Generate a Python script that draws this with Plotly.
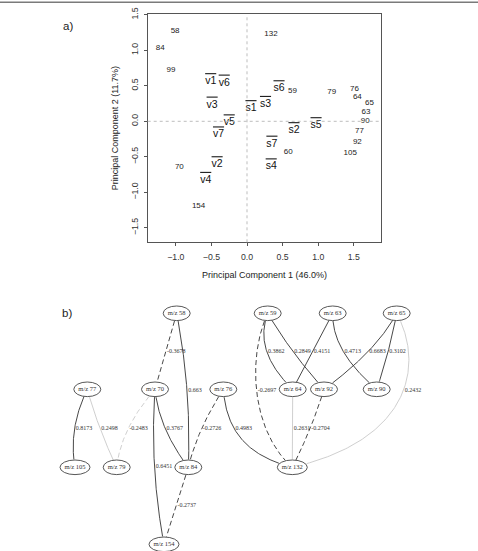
import numpy as np
import plotly.graph_objects as go

# ---------------- Panel a data (PCA biplot) ----------------
pc1_title = "Principal Component 1 (46.0%)"
pc2_title = "Principal Component 2 (11.7%)"

sample_names = ["v1", "v6", "v3", "v5", "v7", "v2", "v4",
                "s6", "s1", "s3", "s2", "s5", "s7", "s4"]
sample_pc1 = [-0.51, -0.32, -0.49, -0.25, -0.40, -0.42, -0.58,
              0.45, 0.056, 0.26, 0.66, 0.97, 0.35, 0.34]
sample_pc2 = [0.56, 0.54, 0.23, -0.02, -0.19, -0.61, -0.83,
              0.46, 0.18, 0.24, -0.13, -0.06, -0.32, -0.64]

mz_names = ["58", "84", "99", "132", "59", "79", "76", "64", "65", "63",
            "90", "77", "92", "60", "105", "70", "154"]
mz_pc1 = [-1.01, -1.22, -1.067, 0.337, 0.64, 1.19, 1.51, 1.55, 1.72, 1.67,
          1.66, 1.58, 1.55, 0.58, 1.45, -0.95, -0.68]
mz_pc2 = [1.27, 1.03, 0.72, 1.23, 0.42, 0.41, 0.455, 0.34, 0.26, 0.127,
          0.01, -0.137, -0.296, -0.43, -0.44, -0.65, -1.19]

x_ticks = [-1.0, -0.5, 0.0, 0.5, 1.0, 1.5]
y_ticks = [-1.5, -1.0, -0.5, 0.0, 0.5, 1.0, 1.5]

# ---------------- Panel b data (correlation network) ----------------
node_names = ["m/z 58", "m/z 59", "m/z 63", "m/z 65",
              "m/z 77", "m/z 70", "m/z 76", "m/z 64", "m/z 92", "m/z 90",
              "m/z 105", "m/z 79", "m/z 84", "m/z 132", "m/z 154"]
node_x = [176.7, 267.7, 332.7, 396.7,
          87.3, 155.0, 223.3, 292.7, 324.0, 376.7,
          75.0, 116.7, 188.3, 292.3, 164.0]
node_y = [313.3, 313.3, 313.3, 313.3,
          389.3, 389.3, 389.3, 389.3, 389.3, 389.3,
          467.3, 467.3, 467.3, 467.3, 544.3]

edge_src = ["m/z 58", "m/z 58", "m/z 77", "m/z 77", "m/z 70", "m/z 70", "m/z 70",
            "m/z 76", "m/z 84", "m/z 76", "m/z 59", "m/z 59", "m/z 59", "m/z 63",
            "m/z 63", "m/z 65", "m/z 65", "m/z 65", "m/z 64", "m/z 92"]
edge_tgt = ["m/z 70", "m/z 84", "m/z 105", "m/z 79", "m/z 79", "m/z 84", "m/z 154",
            "m/z 84", "m/z 154", "m/z 132", "m/z 132", "m/z 64", "m/z 92", "m/z 64",
            "m/z 90", "m/z 92", "m/z 90", "m/z 132", "m/z 132", "m/z 132"]
edge_w = [-0.3678, 0.663, 0.8173, 0.2498, -0.2483, 0.3767, 0.6451,
          -0.2726, -0.2737, 0.4983, -0.2697, 0.3862, 0.2849, 0.4151,
          0.4713, 0.6683, 0.3102, 0.2432, 0.2631, -0.2704]

# edge routing style (curve shape only)
edge_bend = [0, 9, -13, -4, -15, -13, -10, -8, 0, None, None, -27, -6, 0,
             -23, 16, 3, None, 0, 4]
edge_cubic = {9: ((3, 40), (-47, -12)),
              10: ((-20, 42), (-42, -37)),
              17: ((28, 52), (118, -27))}

# ---------------- figure ----------------
W, H = 478, 551
fig = go.Figure()

FONT_SANS = "Liberation Sans, Arial, sans-serif"
FONT_SERIF = "Liberation Serif, Times New Roman, serif"

# panel a text marks
fig.add_trace(go.Scatter(
    x=mz_pc1, y=mz_pc2, mode="text", text=mz_names,
    textposition="middle center",
    textfont=dict(family=FONT_SANS, size=8, color="#222"),
    xaxis="x", yaxis="y", hoverinfo="skip", showlegend=False))
fig.add_trace(go.Scatter(
    x=sample_pc1, y=sample_pc2, mode="text",
    text=['<span style="text-decoration:overline">%s</span>' % n for n in sample_names],
    textposition="middle center",
    textfont=dict(family=FONT_SANS, size=10.5, color="#111"),
    xaxis="x", yaxis="y", hoverinfo="skip", showlegend=False))

# panel b geometry
pos = {n: (x, y) for n, x, y in zip(node_names, node_x, node_y)}
def semi_axes(name):
    digits = len(name.split()[-1])
    return 13.5 + 1.5 * (digits - 2), 7.3

def inside(px, py, name):
    cx, cy = pos[name]
    a, b = semi_axes(name)
    return ((px - cx) / a) ** 2 + ((py - cy) / b) ** 2 < 1.0

groups = {}
labels = []
t = np.linspace(0, 1, 120)
for i, (s, g, w) in enumerate(zip(edge_src, edge_tgt, edge_w)):
    x0, y0 = pos[s]
    x3, y3 = pos[g]
    if i in edge_cubic:
        (d1x, d1y), (d2x, d2y) = edge_cubic[i]
        x1, y1 = x0 + d1x, y0 + d1y
        x2, y2 = x3 + d2x, y3 + d2y
        xs = (1 - t) ** 3 * x0 + 3 * (1 - t) ** 2 * t * x1 + 3 * (1 - t) * t ** 2 * x2 + t ** 3 * x3
        ys = (1 - t) ** 3 * y0 + 3 * (1 - t) ** 2 * t * y1 + 3 * (1 - t) * t ** 2 * y2 + t ** 3 * y3
    else:
        cxp = (x0 + x3) / 2 + edge_bend[i]
        cyp = (y0 + y3) / 2
        xs = (1 - t) ** 2 * x0 + 2 * (1 - t) * t * cxp + t ** 2 * x3
        ys = (1 - t) ** 2 * y0 + 2 * (1 - t) * t * cyp + t ** 2 * y3
    keep = [not (inside(px, py, s) or inside(px, py, g)) for px, py in zip(xs, ys)]
    xs_k = [float(v) for v, k in zip(xs, keep) if k]
    ys_k = [float(v) for v, k in zip(ys, keep) if k]
    strong = abs(w) >= 0.265
    neg = w < 0
    key = (strong, neg)
    gx, gy = groups.setdefault(key, ([], []))
    gx.extend(xs_k + [None])
    gy.extend(ys_k + [None])
    ymid = (y0 + y3) / 2
    j = int(np.argmin(np.abs(ys - ymid)))
    labels.append((float(xs[j]) + 1.2, ymid, "%g" % w))

for (strong, neg), (gx, gy) in groups.items():
    fig.add_trace(go.Scatter(
        x=gx, y=gy, mode="lines",
        line=dict(color="#333333" if strong else "#c9c9c9", width=0.9,
                  dash="5px,3px" if neg else "solid"),
        xaxis="x2", yaxis="y2", hoverinfo="skip", showlegend=False))

fig.add_trace(go.Scatter(
    x=[l[0] for l in labels], y=[l[1] for l in labels], mode="text",
    text=[l[2] for l in labels], textposition="middle right",
    textfont=dict(family=FONT_SERIF, size=6, color="#333"),
    xaxis="x2", yaxis="y2", hoverinfo="skip", showlegend=False))

fig.add_trace(go.Scatter(
    x=node_x, y=node_y, mode="text", text=node_names,
    textposition="middle center",
    textfont=dict(family=FONT_SERIF, size=6.5, color="#333"),
    xaxis="x2", yaxis="y2", hoverinfo="skip", showlegend=False))

shapes = []
for n in node_names:
    cx, cy = pos[n]
    a, b = semi_axes(n)
    shapes.append(dict(type="circle", xref="x2", yref="y2",
                       x0=cx - a, x1=cx + a, y0=cy - b, y1=cy + b,
                       line=dict(color="#444", width=0.9), fillcolor="rgba(0,0,0,0)"))

# dotted reference lines in panel a
shapes.append(dict(type="line", xref="x", yref="y domain", x0=0, x1=0, y0=0, y1=1,
                   line=dict(color="#bdbdbd", width=1, dash="dot")))
shapes.append(dict(type="line", xref="x domain", yref="y", x0=0, x1=1, y0=0, y1=0,
                   line=dict(color="#bdbdbd", width=1, dash="dot")))
# top border line
shapes.append(dict(type="line", xref="paper", yref="paper", x0=0, x1=1,
                   y0=1 - 2.3 / H, y1=1 - 2.3 / H, line=dict(color="#7a7a7a", width=1.5)))

xa_dom = [147.7 / W, 380.7 / W]
ya_dom = [1 - 242.3 / H, 1 - 14.3 / H]

axis_common = dict(showgrid=False, zeroline=False, showline=True, mirror=True,
                   linecolor="#555", linewidth=1, ticks="outside", ticklen=3,
                   tickcolor="#555", tickwidth=1,
                   tickfont=dict(family=FONT_SANS, size=8.7, color="#333"))

fig.update_layout(
    template="none",
    width=W, height=H, autosize=False,
    margin=dict(l=0, r=0, t=0, b=0),
    paper_bgcolor="white", plot_bgcolor="rgba(0,0,0,0)",
    showlegend=False,
    xaxis=dict(domain=xa_dom, range=[-1.395, 1.878], anchor="y",
               tickvals=x_ticks, ticktext=["%.1f" % v if v >= 0 else "\u2212%.1f" % -v for v in x_ticks],
               ticklabelstandoff=3, **axis_common),
    yaxis=dict(domain=ya_dom, range=[-1.704, 1.507], anchor="x",
               tickvals=y_ticks, ticktext=["%.1f" % v if v >= 0 else "\u2212%.1f" % -v for v in y_ticks],
               tickangle=-90, ticklabelstandoff=2, **axis_common),
    xaxis2=dict(domain=[0, 1], range=[0, W], anchor="y2", visible=False, fixedrange=True),
    yaxis2=dict(domain=[0, 1], range=[H, 0], anchor="x2", visible=False, fixedrange=True),
    shapes=shapes,
    annotations=[
        dict(text=pc1_title, xref="paper", yref="paper", x=264 / W, y=1 - 275 / H,
             xanchor="center", yanchor="middle", showarrow=False,
             font=dict(family=FONT_SANS, size=9, color="#222")),
        dict(text=pc2_title, xref="paper", yref="paper", x=115 / W, y=1 - 128.3 / H,
             xanchor="center", yanchor="middle", showarrow=False, textangle=-90,
             font=dict(family=FONT_SANS, size=9, color="#222")),
        dict(text="a)", xref="paper", yref="paper", x=68 / W, y=1 - 26 / H,
             xanchor="center", yanchor="middle", showarrow=False,
             font=dict(family=FONT_SANS, size=11.5, color="#222")),
        dict(text="b)", xref="paper", yref="paper", x=67 / W, y=1 - 312.7 / H,
             xanchor="center", yanchor="middle", showarrow=False,
             font=dict(family=FONT_SANS, size=11.5, color="#222")),
    ],
)

fig.write_html("out.html")
